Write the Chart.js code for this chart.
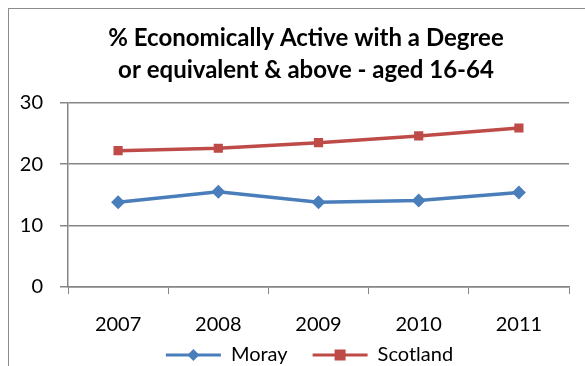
<!DOCTYPE html>
<html><head><meta charset="utf-8">
<script src="https://cdn.jsdelivr.net/npm/chart.js@4"></script>
<style>
html,body{margin:0;padding:0;background:#fff;}
#wrap{position:relative;width:585px;height:366px;overflow:hidden;}
#frame{position:absolute;left:8px;top:8px;width:700px;height:500px;border:1px solid #8c8c8c;box-sizing:border-box;}
canvas{position:absolute;left:0;top:0;}
</style></head>
<body><div id="wrap"><div id="frame"></div><canvas id="c" width="585" height="366"></canvas></div>
<script>
const categories = ["2007","2008","2009","2010","2011"];
const moray = [13.8, 15.5, 13.8, 14.1, 15.4];
const scotland = [22.2, 22.6, 23.5, 24.6, 25.9];
const yTicks = [0, 10, 20, 30];
const titleLines = ["% Economically Active with a Degree", "or equivalent & above - aged 16-64"];

const FONT = "Lato, 'Open Sans', sans-serif";
const LEGEND_ITEM_GAP = 25;
const layoutTweak = {
  id: 'layoutTweak',
  beforeLayout(chart) {
    const lg = chart.legend;
    if (lg && !lg._fitWrapped) {
      const orig = lg.fit.bind(lg);
      lg.fit = function () { orig(); this.height = 24; };
      lg._fitWrapped = true;
    }
  },
  afterLayout(chart) {
    // title and legend are centred over the whole chart object (wider than the crop)
    if (chart.titleBlock) chart.titleBlock.left = 43;
    const lg = chart.legend;
    if (lg) {
      lg.left = 50;
      lg.top = 357 - LEGEND_ITEM_GAP - 12;
      lg.bottom = chart.height;
      lg.height = lg.bottom - lg.top;
    }
  }
};
const legendMarker = {
  id: 'legendMarker',
  afterDraw(chart) {
    const lg = chart.legend;
    if (!lg || !lg.legendHitBoxes) return;
    const ctx = chart.ctx;
    lg.legendHitBoxes.forEach((hb, i) => {
      const ds = chart.data.datasets[i];
      const bw = lg.options.labels.boxWidth;
      const cx = hb.left + bw / 2;
      const cy = hb.top + hb.height / 2;
      ctx.save();
      ctx.fillStyle = ds.borderColor;
      ctx.beginPath();
      if (ds.pointStyle === 'rectRot') {
        const r = 6;
        ctx.moveTo(cx, cy - r); ctx.lineTo(cx + r, cy); ctx.lineTo(cx, cy + r); ctx.lineTo(cx - r, cy);
      } else {
        const s = 5.5;
        ctx.rect(cx - s, cy - s, 2 * s, 2 * s);
      }
      ctx.closePath();
      ctx.fill();
      ctx.restore();
    });
  }
};

new Chart(document.getElementById('c'), {
  type: 'line',
  data: {
    labels: categories,
    datasets: [
      { label: 'Moray', data: moray, borderColor: '#4A7EBB', backgroundColor: '#4A7EBB',
        borderWidth: 3.5, pointStyle: 'rectRot', pointRadius: 7, pointBorderWidth: 0, tension: 0 },
      { label: 'Scotland', data: scotland, borderColor: '#BE4B48', backgroundColor: '#BE4B48',
        borderWidth: 3.5, pointStyle: 'rect', pointRadius: 6.5, pointBorderWidth: 0, tension: 0 }
    ]
  },
  plugins: [layoutTweak, legendMarker],
  options: {
    responsive: false,
    animation: false,
    events: [],
    layout: { padding: { left: 20, right: 16, top: 22, bottom: 0 } },
    plugins: {
      title: { display: true, text: titleLines, color: '#000', font: { family: FONT, size: 24, weight: 'bold', lineHeight: 1.35 }, padding: { top: 0, bottom: 16 } },
      legend: { position: 'bottom', labels: { color: '#000', font: { family: FONT, size: 20 }, boxWidth: 55, boxHeight: 3, padding: LEGEND_ITEM_GAP, usePointStyle: false,
        generateLabels(chart) { return chart.data.datasets.map((d, i) => ({ text: d.label, fillStyle: d.borderColor, strokeStyle: d.borderColor, lineWidth: 0, datasetIndex: i, hidden: false })); } } },
      tooltip: { enabled: false }
    },
    scales: {
      x: {
        offset: true,
        afterFit(s) { s.height = 55; },
        grid: { display: true, drawOnChartArea: false, drawTicks: true, tickLength: 7, color: '#868686', offset: true },
        border: { color: '#868686', width: 1.5 },
        ticks: { color: '#000', font: { family: FONT, size: 20 }, padding: 19 }
      },
      y: {
        min: 0, max: 30,
        afterBuildTicks(s) { s.ticks = yTicks.map(v => ({ value: v })); },
        afterFit(s) { s.width = 48; },
        grid: { color: '#868686', lineWidth: 1.5, tickLength: 8 },
        border: { color: '#868686', width: 1.5 },
        ticks: { color: '#000', font: { family: FONT, size: 20 }, padding: 17 }
      }
    }
  }
});
</script></body></html>
